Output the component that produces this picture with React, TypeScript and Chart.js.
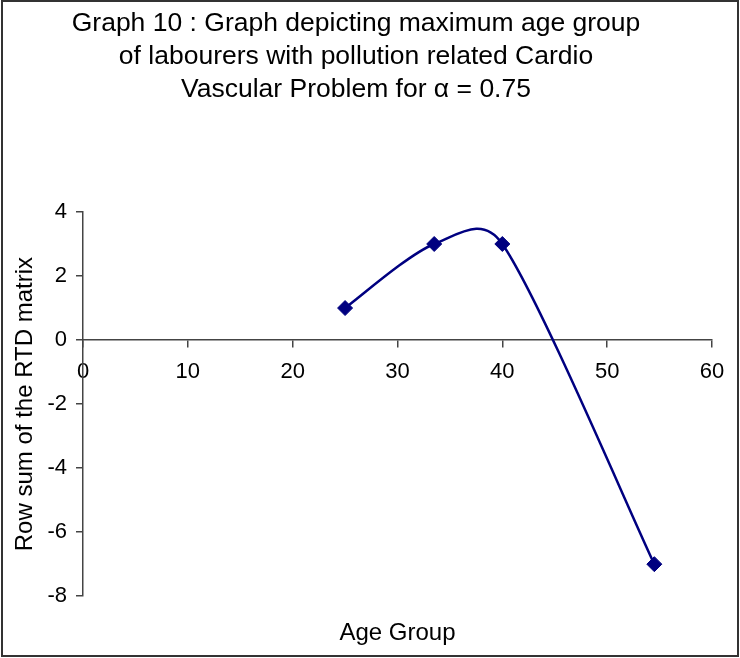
import React, { useEffect, useRef } from "react";
import { Chart, registerables } from "chart.js";

Chart.register(...registerables);

const titleLines = [
  "Graph 10 : Graph depicting maximum age group",
  "of labourers with pollution related Cardio",
  "Vascular Problem for \u03b1 = 0.75",
];
const xAxisTitle = "Age Group";
const yAxisTitle = "Row sum of the RTD matrix";
const ageGroups = [25, 33.5, 40, 54.5];
const rowSums = [1, 3, 3, -7];
const xRange = [0, 60];
const yRange = [-8, 4];
const xStep = 10;
const yStep = 2;

const FONT = "'Liberation Sans', Arial, Helvetica, sans-serif";
const NAVY = "#000080";
const AXIS = "#444444";

// Excel-like smoothing: Bezier handles of (next - prev) / 6, capped at half the segment length
const excelSmoothPlugin = {
  id: "excelSmooth",
  beforeDatasetDraw(chart: any, args: any) {
    const meta = args.meta;
    const line = meta.dataset;
    const pts = meta.data;
    if (!line || !pts || pts.length < 2) return;
    if (typeof line.updateControlPoints === "function") {
      line.updateControlPoints(chart.chartArea, "x");
    }
    const f = 1 / 6;
    const dist = (a: any, b: any) => Math.hypot(b.x - a.x, b.y - a.y);
    for (let i = 0; i < pts.length - 1; i++) {
      const p0 = pts[i - 1] || pts[i];
      const p1 = pts[i];
      const p2 = pts[i + 1];
      const p3 = pts[i + 2] || pts[i + 1];
      const d02 = dist(p0, p2);
      const d12 = dist(p1, p2);
      const d13 = dist(p1, p3);
      const f1 = d02 * f > d12 / 2 ? d12 / 2 / d02 : f;
      const f2 = d13 * f > d12 / 2 ? d12 / 2 / d13 : f;
      p1.cp2x = p1.x + (p2.x - p0.x) * f1;
      p1.cp2y = p1.y + (p2.y - p0.y) * f1;
      p2.cp1x = p2.x - (p3.x - p1.x) * f2;
      p2.cp1y = p2.y - (p3.y - p1.y) * f2;
    }
    pts[0].cp1x = pts[0].x;
    pts[0].cp1y = pts[0].y;
    const last = pts[pts.length - 1];
    last.cp2x = last.x;
    last.cp2y = last.y;
    line._path = undefined;
  },
};

const framePlugin = {
  id: "frame",
  afterDraw(chart: any) {
    const ctx = chart.ctx;
    ctx.save();
    ctx.strokeStyle = "#333333";
    ctx.lineWidth = 2;
    ctx.strokeRect(2, 1, 736, 655);
    ctx.restore();
  },
};

export default function App() {
  const ref = useRef<HTMLCanvasElement | null>(null);

  useEffect(() => {
    document.body.style.margin = "0";
    const canvas = ref.current;
    if (!canvas) return;
    const points = ageGroups.map((x, i) => ({ x, y: rowSums[i] }));
    const chart = new Chart(canvas, {
      type: "scatter",
      data: {
        datasets: [
          {
            data: points,
            showLine: true,
            borderColor: NAVY,
            backgroundColor: NAVY,
            borderWidth: 2.5,
            tension: 0.5,
            pointStyle: "rectRot",
            pointRadius: 7.5,
            pointHoverRadius: 7.5,
            pointBorderWidth: 1,
            pointBorderColor: NAVY,
            pointBackgroundColor: NAVY,
          },
        ],
      },
      options: {
        animation: false,
        responsive: true,
        maintainAspectRatio: false,
        layout: { padding: { left: 0, right: 28, top: 0, bottom: 0 } },
        plugins: {
          legend: { display: false },
          tooltip: { enabled: false },
          title: {
            display: true,
            text: titleLines,
            color: "#000",
            font: { family: FONT, size: 26.5, weight: "normal", lineHeight: 1.245 },
            padding: { top: 7, bottom: 106 },
          },
          subtitle: {
            display: true,
            position: "bottom",
            fullSize: false,
            text: xAxisTitle,
            color: "#000",
            font: { family: FONT, size: 24, weight: "normal", lineHeight: 1.2 },
            padding: { top: 23, bottom: 10 },
          },
        },
        scales: {
          x: {
            type: "linear",
            position: { y: 0 } as any,
            min: xRange[0],
            max: xRange[1],
            ticks: {
              stepSize: xStep,
              color: "#000",
              font: { family: FONT, size: 22 },
              padding: 12,
            },
            grid: {
              display: true,
              drawOnChartArea: false,
              drawTicks: true,
              tickLength: 7,
              color: AXIS,
              lineWidth: 1.5,
            },
            border: { display: true, color: AXIS, width: 1.5 },
          },
          y: {
            type: "linear",
            position: "left",
            min: yRange[0],
            max: yRange[1],
            afterFit(scale: any) {
              scale.width = 83;
            },
            ticks: {
              stepSize: yStep,
              color: "#000",
              font: { family: FONT, size: 22 },
              padding: 9,
            },
            grid: {
              display: true,
              drawOnChartArea: false,
              drawTicks: true,
              tickLength: 7,
              color: AXIS,
              lineWidth: 1.5,
            },
            border: { display: true, color: AXIS, width: 1.5 },
            title: {
              display: true,
              text: yAxisTitle,
              color: "#000",
              font: { family: FONT, size: 24, weight: "normal", lineHeight: 1.2 },
              padding: { top: 11, bottom: 0 },
            },
          },
        },
      },
      plugins: [excelSmoothPlugin, framePlugin],
    });
    return () => chart.destroy();
  }, []);

  return (
    <div style={{ position: "relative", width: 740, height: 658, background: "#fff" }}>
      <canvas ref={ref} />
    </div>
  );
}
